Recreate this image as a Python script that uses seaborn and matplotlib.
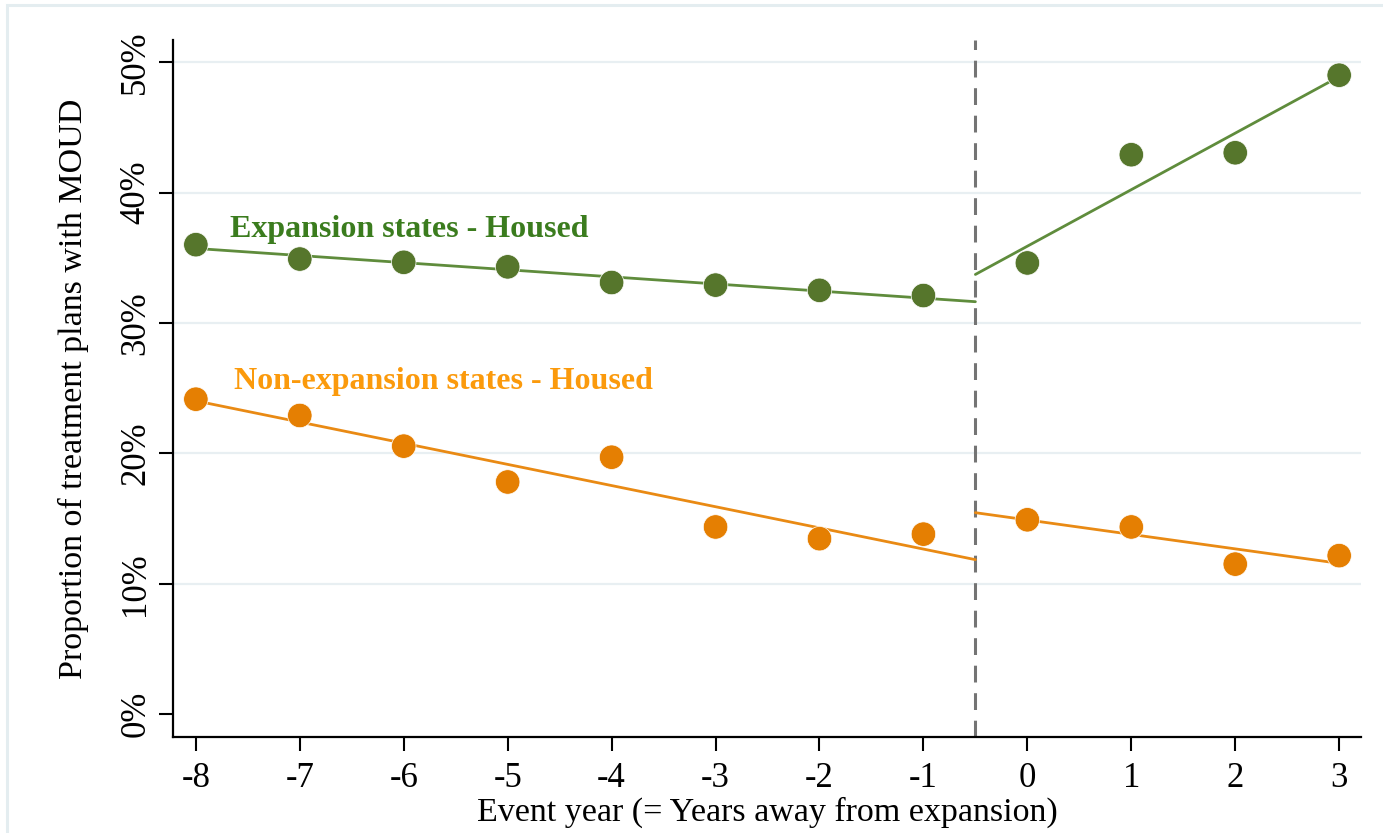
import numpy as np
import pandas as pd
import matplotlib
matplotlib.use("Agg")
import matplotlib.pyplot as plt
import seaborn as sns
from matplotlib.patches import Rectangle

# Event years relative to Medicaid expansion
event_year = [-8, -7, -6, -5, -4, -3, -2, -1, 0, 1, 2, 3]

# Share of treatment plans with MOUD (%), housed clients
expansion_housed = [36.0, 34.9, 34.65, 34.3, 33.1, 32.9, 32.5, 32.1, 34.6, 42.9, 43.05, 49.0]
nonexpansion_housed = [24.15, 22.9, 20.55, 17.8, 19.7, 14.35, 13.45, 13.8, 14.9, 14.35, 11.5, 12.15]

y_ticks = [0, 10, 20, 30, 40, 50]
y_tick_labels = ["0%", "10%", "20%", "30%", "40%", "50%"]
cutoff = -0.5

green_pt = "#56762c"
green_ln = "#5f8c3c"
green_txt = "#3b7c1e"
orange_pt = "#e57f02"
orange_ln = "#e98a14"
orange_txt = "#fb9a0c"

sns.set_theme(style="white")
plt.rcParams["font.family"] = ["Liberation Serif", "DejaVu Serif"]
plt.rcParams["text.color"] = "black"
plt.rcParams["axes.labelcolor"] = "black"
plt.rcParams["xtick.color"] = "black"
plt.rcParams["ytick.color"] = "black"

df = pd.DataFrame({
    "year": event_year * 2,
    "share": expansion_housed + nonexpansion_housed,
    "group": ["Expansion"] * len(event_year) + ["Non-expansion"] * len(event_year),
})

fig = plt.figure(figsize=(13.83, 8.33), dpi=100)
W, H = 1383, 833
# faint outer frame of the graph region
fig.patches.append(Rectangle((7 / W, -0.05), 1.1, (H - 5) / H + 0.05, transform=fig.transFigure,
                             fill=False, edgecolor="#e4edf0", lw=2.2, zorder=0))

ax = fig.add_axes([173 / W, 1 - 737 / H, (1361 - 173) / W, (737 - 40) / H])

# light horizontal grid
for t in y_ticks[1:]:
    ax.axhline(t, color="#e8eff2", lw=1.6, zorder=0)

# separate linear fits before and after expansion
def fit_segment(values, pre):
    x = np.array(event_year, dtype=float)
    y = np.array(values, dtype=float)
    m = x < 0 if pre else x >= 0
    b1, b0 = np.polyfit(x[m], y[m], 1)
    xs = np.array([x[m].min(), cutoff]) if pre else np.array([cutoff, x[m].max()])
    return pd.DataFrame({"year": xs, "share": b0 + b1 * xs})

for vals, col in [(expansion_housed, green_ln), (nonexpansion_housed, orange_ln)]:
    for pre in (True, False):
        seg = fit_segment(vals, pre)
        sns.lineplot(data=seg, x="year", y="share", color=col, lw=2.0, ax=ax, zorder=2)

sns.scatterplot(data=df, x="year", y="share", hue="group",
                palette={"Expansion": green_pt, "Non-expansion": orange_pt},
                s=310, edgecolor="white", linewidth=0.5, legend=False, ax=ax, zorder=3)

ax.axvline(cutoff, color="#747474", lw=2.2, ls=(0, (5.5, 3.5)), zorder=1)

ax.text(-7.67, 37.2, "Expansion states - Housed", color=green_txt, fontsize=23,
        fontweight="bold", va="center", ha="left")
ax.text(-7.63, 25.5, "Non-expansion states - Housed", color=orange_txt, fontsize=23,
        fontweight="bold", va="center", ha="left")

ax.set_xlim(-8.22, 3.21)
ax.set_ylim(-1.76, 51.7)
ax.set_xticks(event_year)
ax.set_xticklabels([str(v) for v in event_year])
ax.set_yticks(y_ticks)
ax.set_yticklabels(y_tick_labels, rotation=90, va="center")

ax.tick_params(axis="x", which="major", direction="out", length=10, width=1.5,
               color="black", labelcolor="black", labelsize=25, pad=8, bottom=True)
ax.tick_params(axis="y", which="major", direction="out", length=10, width=1.5,
               color="black", labelcolor="black", labelsize=25, pad=5, left=True)
ax.set_xlabel("Event year (= Years away from expansion)", fontsize=24.5, labelpad=1)
ax.set_ylabel("Proportion of treatment plans with MOUD", fontsize=24.5, labelpad=22)

for side in ("top", "right"):
    ax.spines[side].set_visible(False)
for side in ("left", "bottom"):
    ax.spines[side].set_color("black")
    ax.spines[side].set_linewidth(1.6)

fig.savefig("out.png", dpi=100, facecolor="white")
